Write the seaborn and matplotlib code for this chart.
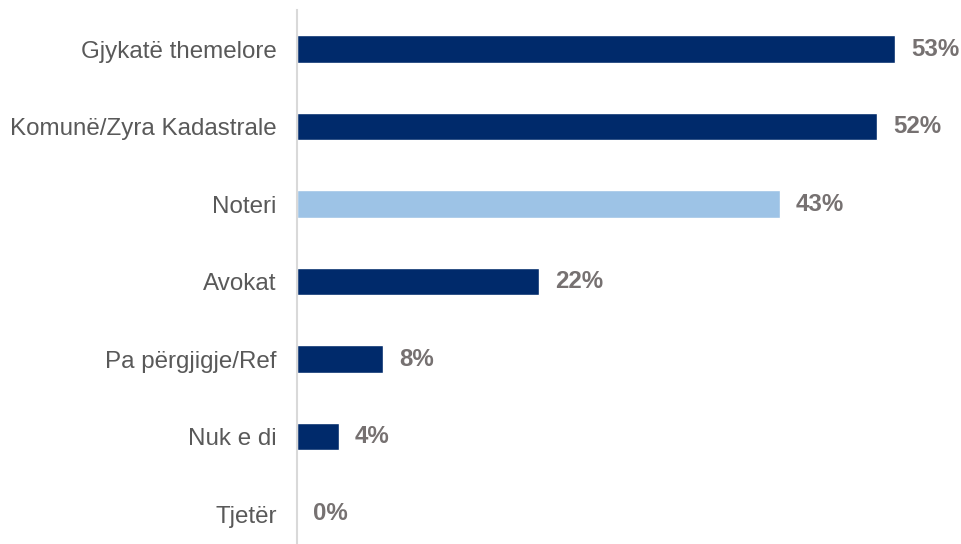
import matplotlib
matplotlib.use("Agg")
import matplotlib.pyplot as plt
import seaborn as sns
import pandas as pd

# Data
categories = ['Gjykatë themelore', 'Komunë/Zyra Kadastrale', 'Noteri', 'Avokat',
              'Pa përgjigje/Ref', 'Nuk e di', 'Tjetër']
values = [53.3, 51.7, 43.0, 21.6, 7.7, 3.7, 0.0]
value_labels = ['53%', '52%', '43%', '22%', '8%', '4%', '0%']
highlight = 'Noteri'

DARK = '#002A6B'
LIGHT = '#9DC3E6'

sns.set_theme(style='white')
plt.rcParams['font.family'] = ['Liberation Sans', 'DejaVu Sans']

df = pd.DataFrame({'category': categories, 'value': values})
palette = {c: (LIGHT if c == highlight else DARK) for c in categories}

fig = plt.figure(figsize=(9.61, 5.44), dpi=100)
ax = fig.add_axes([297 / 961, 1 - 552.75 / 544, 651 / 961, 542.5 / 544])

sns.barplot(data=df, y='category', x='value', hue='category', palette=palette,
            order=categories, width=0.35, legend=False, ax=ax, saturation=1)

for i, (v, lab) in enumerate(zip(values, value_labels)):
    ax.text(v + 1.4, i, lab, va='center', ha='left', fontsize=17.3,
            fontweight='bold', color='#767171')

ax.set_xlim(0, 58)
ax.set_xlabel('')
ax.set_ylabel('')
ax.set_xticks([])
ax.tick_params(axis='y', length=0, pad=14.5, labelsize=17.4, labelcolor='#595959')
for side in ['top', 'right', 'bottom']:
    ax.spines[side].set_visible(False)
ax.spines['left'].set_color('#D9D9D9')
ax.spines['left'].set_linewidth(1.5)

fig.savefig('out.png', dpi=100)
